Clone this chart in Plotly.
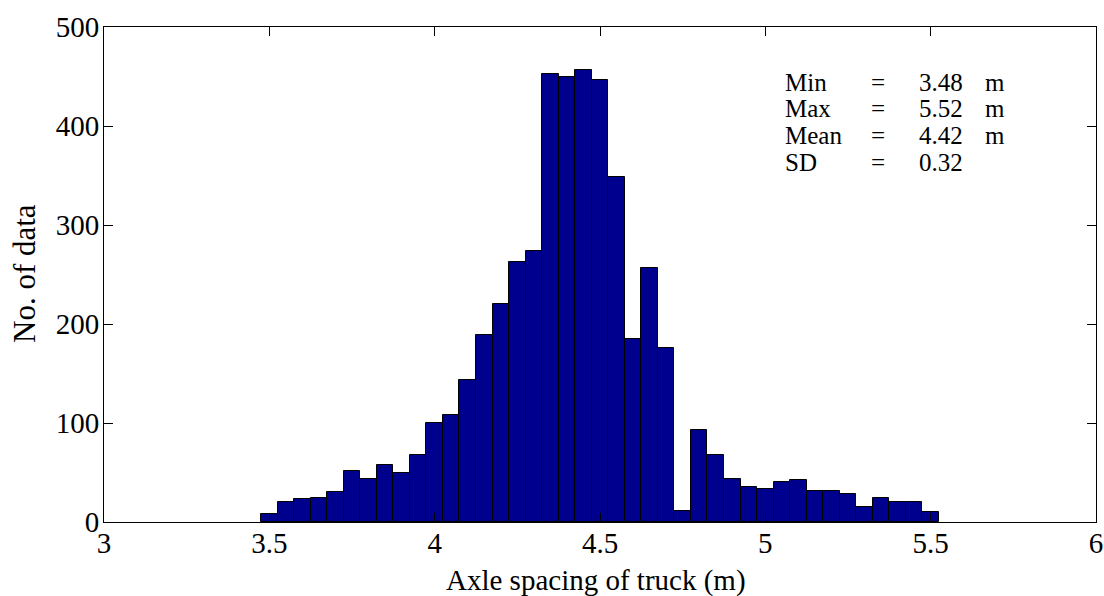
import plotly.graph_objects as go

# Bin centres of the histogram (m)
bin_centers = [3.50, 3.55, 3.60, 3.65, 3.70, 3.75, 3.80, 3.85, 3.90, 3.95,
               4.00, 4.05, 4.10, 4.15, 4.20, 4.25, 4.30, 4.35, 4.40, 4.45,
               4.50, 4.55, 4.60, 4.65, 4.70, 4.75, 4.80, 4.85, 4.90, 4.95,
               5.00, 5.05, 5.10, 5.15, 5.20, 5.25, 5.30, 5.35, 5.40, 5.45,
               5.50]
# Counts per bin
counts = [8, 20, 23, 24, 30, 52, 43, 58, 50, 68,
          100, 108, 143, 189, 220, 263, 274, 453, 449, 457,
          446, 348, 185, 257, 176, 11, 93, 68, 43, 35,
          33, 40, 42, 31, 31, 28, 15, 24, 20, 20,
          10]
bin_width = 0.05

x_ticks = [3, 3.5, 4, 4.5, 5, 5.5, 6]
x_ticklabels = ["3", "3.5", "4", "4.5", "5", "5.5", "6"]
y_ticks = [0, 100, 200, 300, 400, 500]

stat_names = ["Min", "Max", "Mean", "SD"]
stat_eq = ["=", "=", "=", "="]
stat_values = ["3.48", "5.52", "4.42", "0.32"]
stat_units = ["m", "m", "m", ""]

FONT = "Liberation Serif, Times New Roman, serif"
W, H = 1104, 596
L, R, T, B = 104, 8, 27, 74
pw, ph = W - L - R, H - T - B

fig = go.Figure()
fig.add_trace(go.Bar(
    x=bin_centers, y=counts, width=bin_width,
    marker=dict(color="#00008F", line=dict(color="black", width=1)),
    showlegend=False,
))

axis_common = dict(
    showgrid=False, zeroline=False, showline=True, linecolor="black",
    linewidth=1, mirror="ticks", ticks="inside", ticklen=9,
    tickcolor="black", tickwidth=1, automargin=False,
    tickfont=dict(family=FONT, size=29, color="black"),
)
fig.update_xaxes(range=[3, 6], tickvals=x_ticks, ticktext=x_ticklabels,
                 ticklabelstandoff=-5, **axis_common)
fig.update_yaxes(range=[0, 500], tickvals=y_ticks, ticklabelstandoff=-2,
                 **axis_common)


def px_x(p):
    return (p - L) / pw


def px_y(p):
    return (H - B - p) / ph


annotations = []
row_y = [82, 108.7, 135.3, 162]
col_x = [783, 869, 917, 983]
for i in range(len(stat_names)):
    for cx, txt in zip(col_x, [stat_names[i], stat_eq[i], stat_values[i], stat_units[i]]):
        if not txt:
            continue
        annotations.append(dict(
            x=px_x(cx), y=px_y(row_y[i]), xref="paper", yref="paper",
            xanchor="left", yanchor="middle", showarrow=False, text=txt,
            font=dict(family=FONT, size=25, color="black"),
        ))

annotations.append(dict(
    x=px_x(596), y=px_y(580), xref="paper", yref="paper", xanchor="center",
    yanchor="middle", showarrow=False, text="Axle spacing of truck (m)",
    font=dict(family=FONT, size=29, color="black"),
))
annotations.append(dict(
    x=px_x(24), y=px_y(274), xref="paper", yref="paper", xanchor="center",
    yanchor="middle", showarrow=False, text="No. of data", textangle=-90,
    font=dict(family=FONT, size=31, color="black"),
))

fig.update_layout(
    width=W, height=H,
    margin=dict(l=L, r=R, t=T, b=B, pad=0, autoexpand=False),
    paper_bgcolor="white", plot_bgcolor="white",
    bargap=0, annotations=annotations,
    font=dict(family=FONT, color="black"),
)

fig.write_html(
    "out.html",
    config={"displayModeBar": False},
    post_script="document.body.style.margin='0';document.body.style.overflow='hidden';",
)
